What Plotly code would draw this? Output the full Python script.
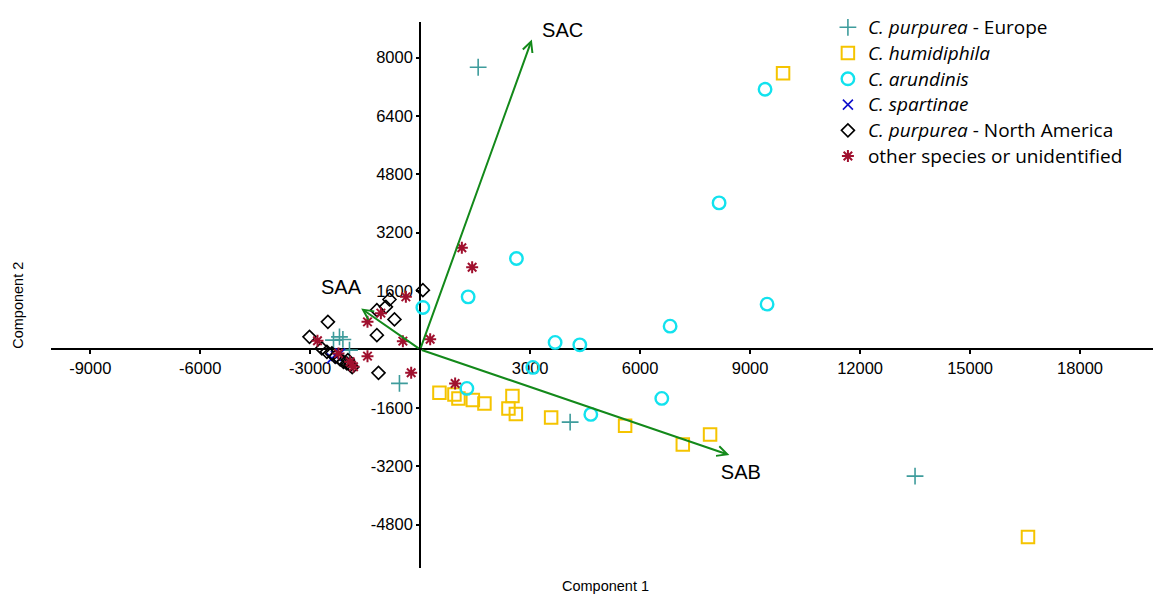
import plotly.graph_objects as go

# ---------------- data ----------------
eu_x = [1582, 4091, 13499, -565, -2364, -2201, -2108, -1928]
eu_y = [7735, -1992, -3472, -932, 255, 345, 274, -20]

hum_x = [9899, 16580, 526, 935, 1044, 1437, 1753, 2517, 2408, 2610, 3572, 5590, 7164, 7908]
hum_y = [7571, -5143, -1189, -1233, -1343, -1389, -1479, -1280, -1617, -1773, -1863, -2093, -2603, -2329]

aru_x = [9408, 8154, 2626, 1309, 74, 9463, 6818, 3681, 4355, 3073, 1274, 4655, 6591]
aru_y = [7132, 4017, 2493, 1441, 1151, 1241, 638, 192, 126, -493, -1069, -1781, -1343]

spa_x = [-2408, -2182, -2300]
spa_y = [-247, -110, -180]

na_x = [74, -837, -935, -1181, -701, -1181, -1137, -2517, -3019, -2681, -2544, -2408,
        -2318, -2182, -2092, -1999, -1909, -1972, -1854]
na_y = [1625, 1370, 1167, 1077, 822, 392, -641, 756, 345, 27, -66, -110,
        -203, -274, -340, -384, -430, -293, -485]

oth_x = [1137, 1418, -390, -1072, -1437, -472, 273, -1437, -245, 954, -2801, -2228, -1909, -1819]
oth_y = [2789, 2255, 1441, 995, 756, 227, 277, -184, -641, -932, 236, -110, -340, -477]

vec_names = ["SAA", "SAB", "SAC"]
vec_x = [-1609, 8435, 3046]
vec_y = [1123, -2896, 8494]
vec_label_x = [-2160, 8748, 3886]
vec_label_y = [1652, -3417, 8702]

x_ticks = [-9000, -6000, -3000, 3000, 6000, 9000, 12000, 15000, 18000]
y_ticks = [-4800, -3200, -1600, 1600, 3200, 4800, 6400, 8000]

x_range = [-10070, 19990]
y_range = [-5992, 8976]

# ---------------- figure ----------------
fig = go.Figure()


def big(label):
    return '<span style="font-size:19px">' + label + '</span>'


def add(xs, ys, name, symbol, color, size, lw):
    fig.add_trace(go.Scatter(
        x=xs, y=ys, mode="markers", name=big(name),
        marker=dict(symbol=symbol, size=size, color=color,
                    line=dict(color=color, width=lw)),
        cliponaxis=False,
    ))

add(eu_x, eu_y, "<i>C. purpurea</i> - Europe", "cross-thin-open", "#3E9C9C", 12, 1.6)
add(hum_x, hum_y, "<i>C. humidiphila</i>", "square-open", "#F5C400", 12.5, 2)
add(aru_x, aru_y, "<i>C. arundinis</i>", "circle-open", "#12E2EE", 12.5, 2.4)
add(spa_x, spa_y, "<i>C. spartinae</i>", "x-thin-open", "#1010CC", 10, 1.6)
add(na_x, na_y, "<i>C. purpurea</i> - North America", "diamond-open", "#000000", 10, 1.6)
add(oth_x, oth_y, "other species or unidentified", "asterisk-open", "#A0102E", 10, 2)

fig.add_trace(go.Scatter(
    x=vec_label_x, y=vec_label_y, mode="text", text=vec_names,
    textfont=dict(family="Liberation Sans, Arial, sans-serif", size=20, color="#000000"),
    showlegend=False, cliponaxis=False, hoverinfo="skip",
))

for vx, vy in zip(vec_x, vec_y):
    fig.add_annotation(
        x=vx, y=vy, ax=0, ay=0, xref="x", yref="y", axref="x", ayref="y",
        showarrow=True, arrowhead=5, arrowsize=1, arrowwidth=2,
        arrowcolor="#13891A", text="",
    )

xpos = (0 - x_range[0]) / (x_range[1] - x_range[0])
ypos = (0 - y_range[0]) / (y_range[1] - y_range[0])

axis_font = dict(family="Liberation Sans, Arial, sans-serif", size=16.5, color="#000000")

fig.update_layout(
    width=1153, height=594,
    margin=dict(l=51, r=0, t=22, b=26, autoexpand=False),
    paper_bgcolor="white", plot_bgcolor="white",
    xaxis=dict(
        range=x_range, anchor="free", position=ypos, side="bottom",
        showline=True, linecolor="#000000", linewidth=2,
        tickvals=x_ticks, ticktext=[str(v) for v in x_ticks],
        ticks="outside", ticklen=4, tickwidth=1.5, tickcolor="#000000",
        tickfont=axis_font, showgrid=False, zeroline=False, layer="below traces",
        automargin=False,
    ),
    yaxis=dict(
        range=y_range, anchor="free", position=xpos, side="left",
        showline=True, linecolor="#000000", linewidth=2,
        tickvals=y_ticks, ticktext=[str(v) for v in y_ticks],
        ticks="outside", ticklen=3, tickwidth=1.5, tickcolor="#000000",
        tickfont=axis_font, showgrid=False, zeroline=False, layer="below traces",
        automargin=False,
    ),
    legend=dict(
        x=0.705, y=1.023, xanchor="left", yanchor="top",
        font=dict(family="'Open Sans', Lato, sans-serif", size=17.5, color="#000000"),
        bgcolor="rgba(0,0,0,0)", tracegroupgap=0, itemsizing="trace",
    ),
    showlegend=True,
)

fig.add_annotation(
    text="Component 1", xref="paper", yref="paper", x=0.503, y=-0.033,
    showarrow=False, font=dict(family="Liberation Sans, Arial, sans-serif", size=14.5, color="#000000"),
    xanchor="center", yanchor="middle",
)
fig.add_annotation(
    text="Component 2", xref="paper", yref="paper", x=-0.030, y=0.482,
    showarrow=False, textangle=-90,
    font=dict(family="Liberation Sans, Arial, sans-serif", size=14.5, color="#000000"),
    xanchor="center", yanchor="middle",
)

fig.write_html(
    "out.html",
    config={"displayModeBar": False},
    post_script="document.body.style.margin='0';document.body.style.overflow='hidden';",
)
